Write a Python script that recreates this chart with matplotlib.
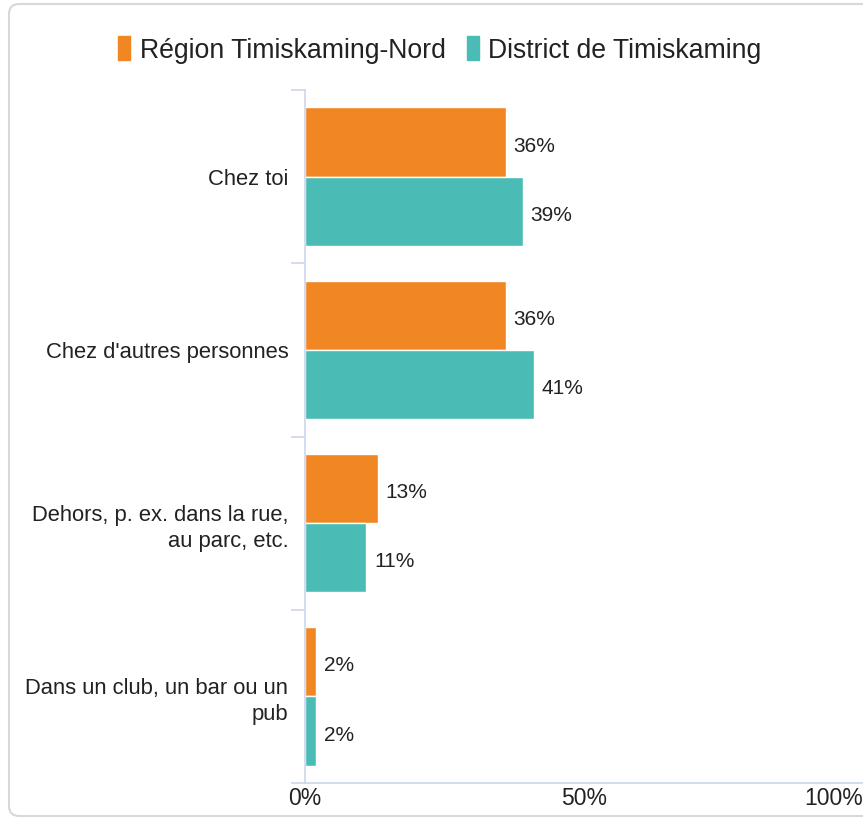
import matplotlib.pyplot as plt
from matplotlib.patches import FancyBboxPatch, Rectangle
import numpy as np

plt.rcParams['font.family'] = ['Liberation Sans', 'DejaVu Sans']

categories = ["Chez toi", "Chez d'autres personnes",
              "Dehors, p. ex. dans la rue,\nau parc, etc.",
              "Dans un club, un bar ou un\npub"]
series_names = ["Région Timiskaming-Nord", "District de Timiskaming"]
region_vals = [36, 36, 13, 2]
district_vals = [39, 41, 11, 2]
colors = ["#f08723", "#4bbcb5"]
x_ticks = [0, 50, 100]

fig = plt.figure(figsize=(8.63, 8.18), dpi=100)

# cadre gris arrondi
frame = FancyBboxPatch((9 / 863, 2 / 818), 1.2, 1 - 4 / 818 - 2 / 818,
                       boxstyle="round,pad=0,rounding_size=0.012",
                       transform=fig.transFigure, fill=False,
                       edgecolor="#d8d8d8", linewidth=1.5)
fig.add_artist(frame)

ax = fig.add_axes([305 / 863, 1 - 783 / 818, 1 - 305 / 863, (783 - 90) / 818])

y = np.arange(len(categories))
h = 0.4
for k, vals in enumerate([region_vals, district_vals]):
    pos = y - h / 2 if k == 0 else y + h / 2
    ax.barh(pos, vals, height=h, color=colors[k], edgecolor="white", linewidth=1)
    for yy, v in zip(pos, vals):
        ax.annotate(f"{v}%", (v, yy), xytext=(5.5, -3), textcoords="offset points",
                    va="center", ha="left", fontsize=15, color="#222222")

ax.set_xlim(0, 100)
ax.set_ylim(len(categories) - 0.5, -0.5)

ax.set_yticks(y)
ax.set_yticklabels(categories, fontsize=15.8, color="#222222",
                   multialignment="right", linespacing=1.35)
ax.tick_params(axis="y", length=0, pad=12)
ax.set_yticks(np.arange(-0.5, len(categories)), minor=True)
ax.tick_params(axis="y", which="minor", length=10, width=1.2, color="#ccd6eb")

ax.set_xticks(x_ticks)
ax.set_xticklabels([f"{t}%" for t in x_ticks], fontsize=16.5, color="#222222")
ax.tick_params(axis="x", length=0, pad=3)
ax.get_xticklabels()[-1].set_ha("right")

for s in ["top", "right"]:
    ax.spines[s].set_visible(False)
ax.spines["left"].set_color("#ccd6eb")
ax.spines["left"].set_linewidth(1.2)
ax.spines["bottom"].set_color("#ccd6eb")
ax.spines["bottom"].set_linewidth(1.2)

# légende
handles = [Rectangle((0, 0), 1, 1, color=c) for c in colors]
fig.legend(handles, series_names, loc="center", bbox_to_anchor=(440 / 863, 1 - 50 / 818),
           ncol=2, frameon=False, fontsize=19.2, handlelength=0.45, handleheight=1.0,
           handletextpad=0.35, columnspacing=0.8, labelcolor="#222222")

fig.savefig("out.png", dpi=100)
